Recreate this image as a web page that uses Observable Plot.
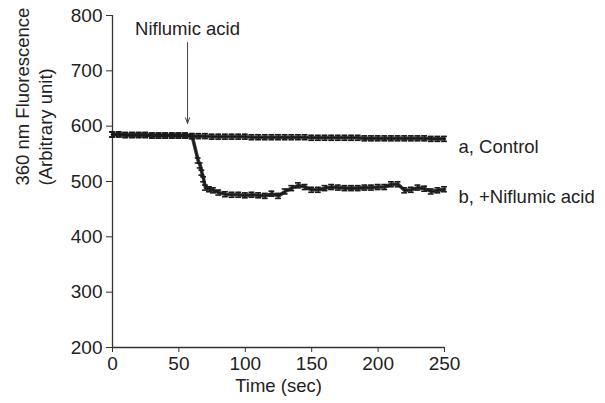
<!DOCTYPE html>
<html>
<head>
<meta charset="utf-8">
<script src="https://cdn.jsdelivr.net/npm/d3@7"></script>
<script src="https://cdn.jsdelivr.net/npm/@observablehq/plot@0.6"></script>
<style>
  html, body { margin: 0; padding: 0; background: #fff; }
  #chart g[aria-label$="tick label"], #chart g[aria-label$="tick label"] text { font-size: 19px; }
</style>
</head>
<body>
<div id="chart"></div>
<script>
// ---- data ----
const controlTime = [0,5,10,15,20,25,30,35,40,45,50,55,60,65,70,75,80,85,90,95,100,105,110,115,120,125,130,135,140,145,150,155,160,165,170,175,180,185,190,195,200,205,210,215,220,225,230,235,240,245,250];
const controlValue = [585,585,584,584,584,584,583,583,583,583,583,583,582,582,582,581,581,581,581,581,581,580,580,580,580,580,580,580,580,580,579,579,579,579,579,579,579,579,578,578,578,578,578,578,578,578,578,578,577,577,577];

const niflumicTime = [0,5,10,15,20,25,30,35,40,45,50,55,60,64.5,66,67.3,68.6,70,73,76,80,85,90,95,100,105,110,115,120,125,130,135,140,145,150,155,160,165,170,175,180,185,190,195,200,205,210,215,220,225,230,235,240,245,250];
const niflumicValue = [585,585,584,584,584,584,583,583,583,583,583,583,582,538,529,516,504,489,486,484,480,477,476,476,475,476,475,474,478,474,482,488,493,490,485,485,488,490,489,488,488,488,489,489,490,490,495,495,484,485,489,487,482,484,486];

const errorSize = 4.5;         // ± error bar half-length (arbitrary unit)
const xTicks = [0,50,100,150,200,250];
const yTicks = [200,300,400,500,600,700,800];
const seriesLabels = ["a, Control", "b, +Niflumic acid"];
const seriesLabelY = [563, 471];
const arrowTime = 56.5;
const arrowFrom = 751, arrowTo = 605;

const control = controlTime.map((t,i) => ({t, v: controlValue[i], e: errorSize}));
const niflumic = niflumicTime.map((t,i) => ({t, v: niflumicValue[i], e: errorSize}));
const labels = seriesLabels.map((s,i) => ({s, y: seriesLabelY[i]}));

const ink = "#1a1a1a";
const FS = 18.5;
function traceMarks(data) {
  return [
    Plot.line(data, {x: "t", y: "v", stroke: ink, strokeWidth: 1.6}),
    Plot.ruleX(data, {x: "t", y1: d => d.v - d.e, y2: d => d.v + d.e, stroke: ink, strokeWidth: 1.2}),
    Plot.ruleY(data, {y: d => d.v + d.e, x1: d => d.t - 2.2, x2: d => d.t + 2.2, stroke: ink, strokeWidth: 1.6}),
    Plot.ruleY(data, {y: d => d.v - d.e, x1: d => d.t - 2.2, x2: d => d.t + 2.2, stroke: ink, strokeWidth: 1.6}),
    Plot.line(data, {x: "t", y: "v", stroke: ink, strokeWidth: 3.6, strokeOpacity: 0.85})
  ];
}

const chart = Plot.plot({
  width: 605,
  height: 403,
  marginLeft: 112,
  marginRight: 161,
  marginTop: 15,
  marginBottom: 56,
  style: {fontFamily: "'Liberation Sans', Arial, sans-serif", fontSize: FS + "px", color: "#222", background: "#fff", overflow: "visible"},
  x: {domain: [0, 250]},
  y: {domain: [200, 800]},
  marks: [
    Plot.axisX({ticks: xTicks, tickSize: 5, tickPadding: 4, label: null, stroke: "#333", fontSize: 19}),
    Plot.axisY({ticks: yTicks, tickSize: 6, tickPadding: 4, label: null, stroke: "#333", fontSize: 19}),
    Plot.ruleX([0], {stroke: "#333", strokeWidth: 1.3}),
    Plot.ruleY([200], {stroke: "#333", strokeWidth: 1.3}),
    ...traceMarks(control),
    ...traceMarks(niflumic),
    Plot.arrow([0], {x1: arrowTime, x2: arrowTime, y1: arrowFrom, y2: arrowTo, stroke: "#444", strokeWidth: 1, headLength: 9, headAngle: 40}),
    Plot.text([0], {x: arrowTime, y: 775, text: () => "Niflumic acid", fontSize: FS, fill: "#222"}),
    Plot.text(labels, {x: 250, y: "y", text: "s", dx: 14, textAnchor: "start", fontSize: FS, fill: "#222"}),
    Plot.text([0], {frameAnchor: "left", dx: -79, dy: 4, rotate: -90, text: () => "360 nm Fluorescence\n(Arbitrary unit)", lineHeight: 1.25, fontSize: FS, fill: "#222"}),
    Plot.text([0], {frameAnchor: "bottom", dy: 44, text: () => "Time (sec)", fontSize: FS, fill: "#222"})
  ]
});
document.getElementById("chart").appendChild(chart);
</script>
</body>
</html>
